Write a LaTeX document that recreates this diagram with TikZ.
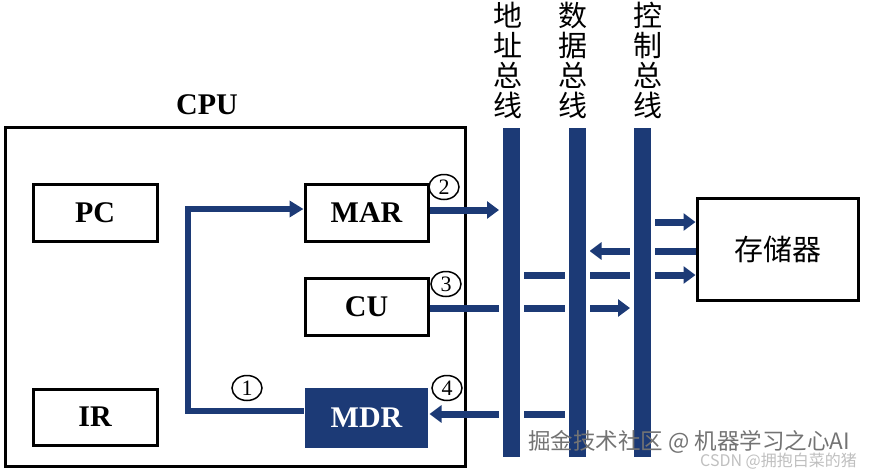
\documentclass[tikz,border=0pt]{standalone}
\usepackage{fontspec}
\setmainfont{Liberation Serif}
\newfontfamily\cjk{Noto Sans CJK SC}
\usetikzlibrary{arrows.meta,shapes.geometric}
\definecolor{navy}{RGB}{28,58,118}
\begin{document}
\begin{tikzpicture}[x=1pt,y=-1pt,
  box/.style={draw=black, line width=3pt, inner sep=0pt, minimum width=123pt, minimum height=57pt,
              font=\fontsize{30}{30}\selectfont\bfseries},
  bar/.style={fill=navy, draw=white, line width=4pt, inner sep=0pt, minimum width=21pt, minimum height=333pt},
  flow/.style={draw=navy, line width=7pt, -{Triangle[length=12pt,width=17pt]}},
  flowthin/.style={draw=navy, line width=6.5pt, -{Triangle[length=14pt,width=16pt]}},
  num/.style={draw=black, line width=1.5pt, ellipse, inner sep=0pt, minimum width=30pt, minimum height=25pt,
              font=\fontsize{22}{22}\selectfont},
  buslabel/.style={align=center, inner sep=0pt, font=\cjk\fontsize{29}{30}\selectfont},
  wm/.style={anchor=west, inner sep=0pt}
]
\useasboundingbox (0,0) rectangle (888,471);

% CPU frame
\node[draw=black, line width=3pt, inner sep=0pt, minimum width=460pt, minimum height=339pt] (cpu) at (235,296.5) {};
\node[font=\fontsize{30}{30}\selectfont\bfseries, inner sep=0pt] (cpulabel) at (207,105) {CPU};

% registers
\node[box, minimum width=124pt] (pc) at (95,212.5) {PC};
\node[box] (mar) at (366.5,212.5) {MAR};
\node[box] (cu) at (366.5,306.5) {CU};
\node[box, minimum width=124pt, minimum height=56pt] (ir) at (95,417) {IR};
\node[box, draw=none, fill=navy, text=white, minimum height=60pt] (mdr) at (366.5,418) {MDR};

% memory
\node[box, minimum width=161pt, minimum height=102pt, font=\cjk\fontsize{29}{30}\selectfont] (mem) at (777.5,249) {存储器};

% helper coordinates
\coordinate (kx) at (188,0);
\coordinate (r1) at (0,275);
\coordinate (r2) at (0,251);
\coordinate (r3) at (0,222);
\coordinate (r4) at (0,414);
\coordinate (r5) at (0,411);
\coordinate (r6) at (0,209);
\coordinate (r7) at (0,308);
\coordinate (r8) at (0,210);

% bus bar anchors (drawn after the lines)
\path (511.5,292.5) coordinate (abusc) (577,292.5) coordinate (dbusc) (642.5,292.5) coordinate (cbusc);
\node[bar, draw=none, fill=none] (abus) at (abusc) {};
\node[bar, draw=none, fill=none] (dbus) at (dbusc) {};
\node[bar, draw=none, fill=none] (cbus) at (cbusc) {};

% internal path MDR -> MAR
\draw[flowthin] (mdr.west |- r5) -- (kx |- r5) -- (kx |- r6) -- (mar.west |- r6);

% connectors to/from buses
\draw[flow] (mar.east |- r8) -- (abus.west |- r8);
\draw[flow] (cu.east |- r7) -- (cbus.west |- r7);
\draw[flow] (abus.east |- r1) -- (mem.west |- r1);
\draw[flow] (mem.west |- r2) -- (dbus.east |- r2);
\draw[flow] (cbus.east |- r3) -- (mem.west |- r3);
\draw[flow] (dbus.west |- r4) -- (mdr.east |- r4);

% bars drawn on top
\node[bar] (abusbar) at (abusc) {};
\node[bar] (dbusbar) at (dbusc) {};
\node[bar] (cbusbar) at (cbusc) {};

% bus labels
\node[buslabel] (al) at (508,60) {地\\址\\总\\线};
\node[buslabel] (dl) at (573,60) {数\\据\\总\\线};
\node[buslabel] (cl) at (648,60) {控\\制\\总\\线};

% step numbers
\node[num] (n1) at (247,388) {1};
\node[num] (n2) at (444,187) {2};
\node[num] (n3) at (446,284) {3};
\node[num] (n4) at (447,388) {4};

% watermarks
\node[wm, text=black!25, font=\cjk\fontsize{16}{16}\selectfont] (wm2) at (700,461) {CSDN @拥抱白菜的猪};
\node[wm, text=black!55, font=\cjk\fontsize{22.5}{22.5}\selectfont] (wm1) at (528,442) {掘金技术社区 @ 机器学习之心AI};
\end{tikzpicture}
\end{document}
